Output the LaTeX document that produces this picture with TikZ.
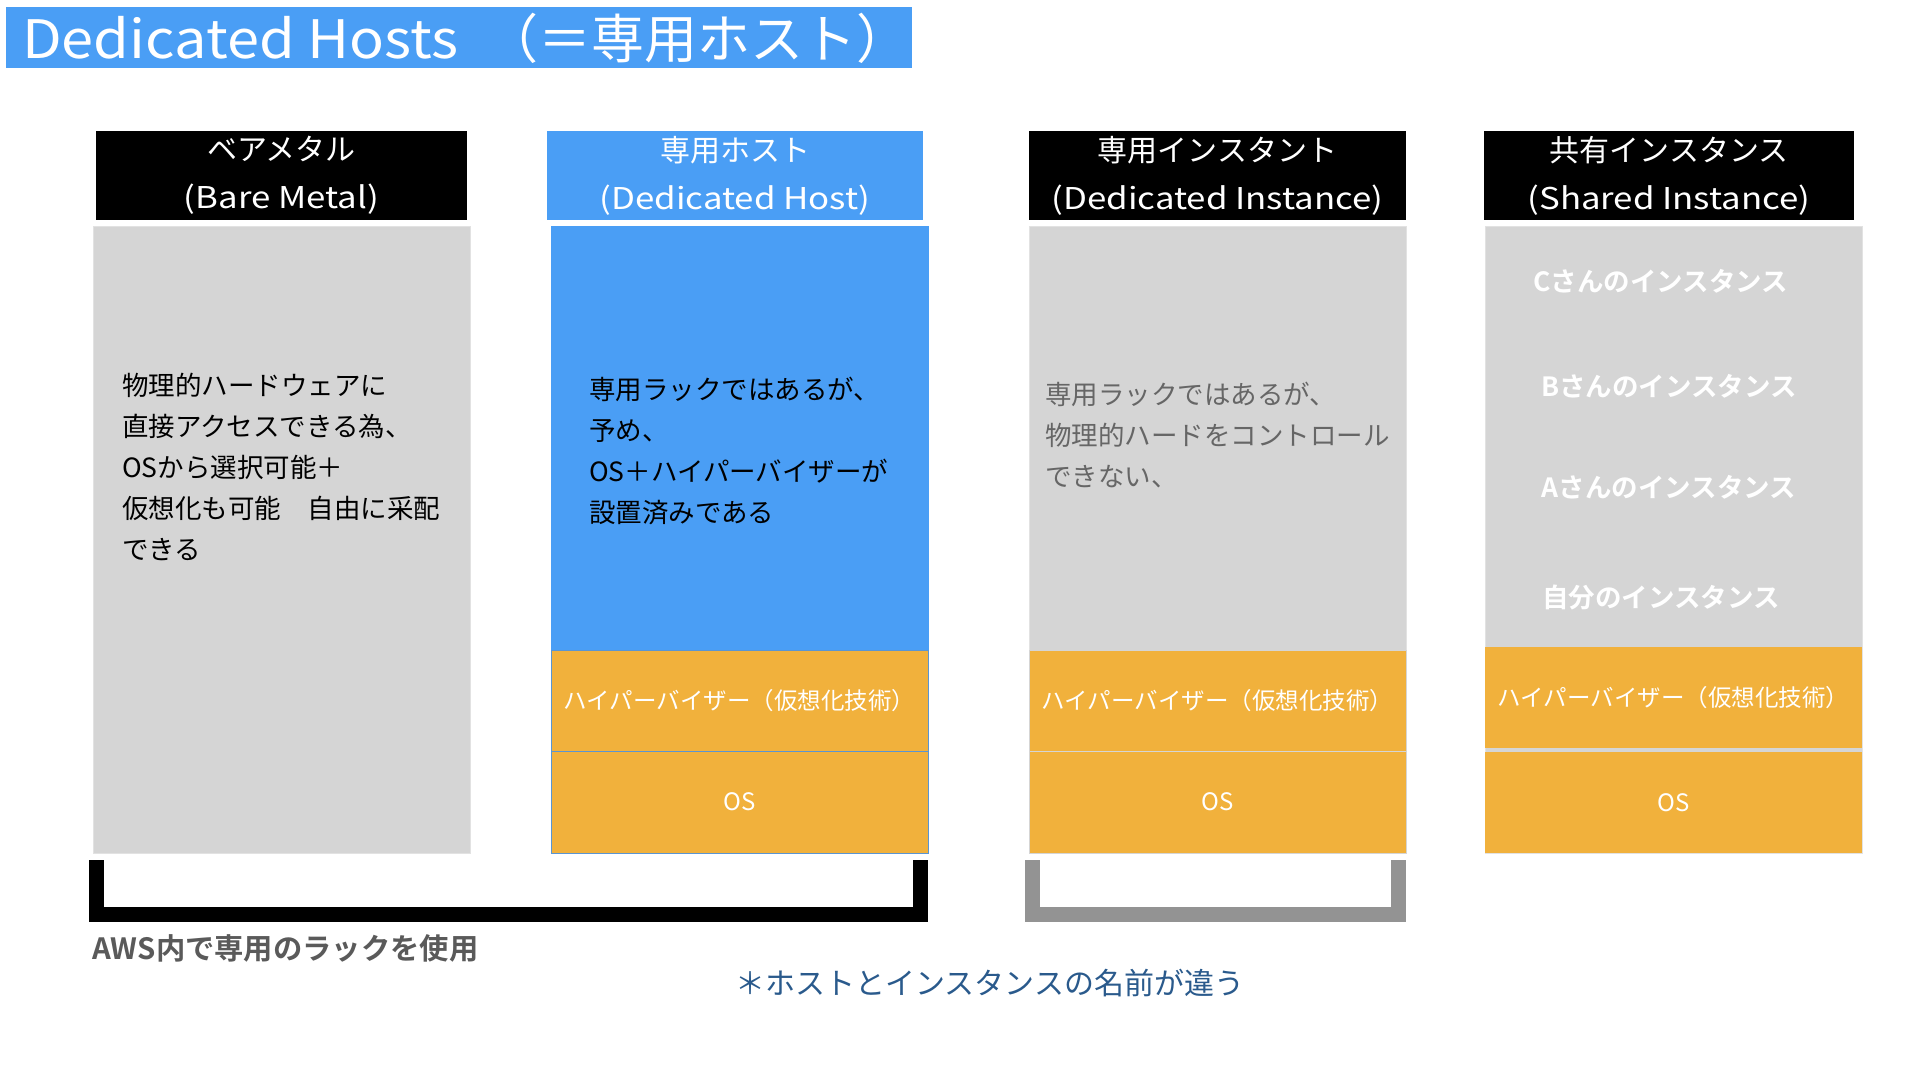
\documentclass[tikz,border=0pt]{standalone}
\usepackage{fontspec}
\setmainfont{Noto Sans CJK JP}[BoldFont={Noto Sans CJK JP Bold}]
\newfontfamily\latT{Noto Sans CJK JP}[FakeStretch=1.09]
\newfontfamily\latH{Noto Sans CJK JP}[FakeStretch=1.16]
\definecolor{tblue}{HTML}{4A9EF5}
\definecolor{torange}{HTML}{F1B13C}
\definecolor{tgray}{HTML}{D5D5D5}
\definecolor{tdgray}{HTML}{666666}
\definecolor{tnote}{HTML}{2A5A8C}
\definecolor{tlabel}{HTML}{5A5A5A}
\definecolor{tbrk}{HTML}{939393}
\newcommand\fs[2]{\fontsize{#1}{#2}\selectfont}
\tikzset{
  box/.style={inner sep=0pt, outer sep=0pt, minimum width=377pt},
  hdr/.style={box, fill=black, text=white, minimum height=89pt, align=center, font=\fs{30}{48}},
  body/.style={box, fill=tgray, draw=tgray!70!white, line width=0.8pt},
  hyp/.style={box, fill=torange, text=white, minimum height=101pt, font=\fs{23.5}{30}},
  ostxt/.style={box, fill=torange, text=white, minimum height=101pt, font=\fs{24}{30}},
  para/.style={inner sep=0pt, anchor=north west, align=left, font=\fs{26.5}{41}},
  inst/.style={inner sep=0pt, text=white, font=\bfseries\fs{26.5}{30}},
  brk/.style={line width=15pt, line join=miter},
}
\begin{document}
\begin{tikzpicture}[x=1pt, y=-1pt]
\useasboundingbox (0,0) rectangle (1920,1080);
% title
\node[inner sep=0pt, outer sep=0pt, fill=tblue, minimum width=906pt, minimum height=61pt, anchor=north west] (title) at (6,7) {};
\node[inner sep=0pt, anchor=west, text=white, font=\fs{53}{60}] (titletxt) at (22,38) {{\latT Dedicated Hosts}\hspace{0.5em}（＝専用ホスト）};
% headers
\node[hdr, minimum width=371pt] (h1) at (281.5,175.5) {ベアメタル\\{\latH (Bare Metal)}};
\node[hdr, fill=tblue, minimum width=376pt] (h2) at (735,175.5) {専用ホスト\\{\latH (Dedicated Host)}};
\node[hdr] (h3) at (1217.5,175.5) {専用インスタント\\{\latH (Dedicated Instance)}};
\node[hdr, minimum width=370pt] (h4) at (1669,175.5) {共有インスタンス\\{\latH (Shared Instance)}};
% column 1
\node[body, minimum height=627pt] (b1) at (281.5,539.5) {};
\node[para] (t1) at (122,373) {物理的ハードウェアに\\直接アクセスできる為、\\OSから選択可能＋\\仮想化も可能　自由に采配\\できる};
% column 2
\node[body, fill=tblue, draw=tblue, minimum height=424pt] (b2) at (739.5,438) {};
\node[hyp, draw=tblue!70!gray, line width=1pt] (hv2) at (739.5,700.5) {ハイパーバイザー（仮想化技術）};
\node[ostxt, draw=tblue!70!gray, line width=1pt, minimum height=102pt] (os2) at (739.5,802) {OS};
\node[para] (t2) at (589,377) {専用ラックではあるが、\\予め、\\OS＋ハイパーバイザーが\\設置済みである};
% column 3
\node[body, minimum height=424pt] (b3) at (1217.5,438) {};
\node[hyp, draw=tgray, line width=1pt] (hv3) at (1217.5,700.5) {ハイパーバイザー（仮想化技術）};
\node[ostxt, draw=tgray, line width=1pt, minimum height=102pt] (os3) at (1217.5,802) {OS};
\node[para, text=tdgray] (t3) at (1045,382) {専用ラックではあるが、\\物理的ハードをコントロール\\できない、};
% column 4
\node[body, minimum height=627pt] (b4) at (1673.5,539.5) {};
\node[hyp] (hv4) at (1673.5,697.5) {ハイパーバイザー（仮想化技術）};
\node[ostxt] (os4) at (1673.5,802.5) {OS};
\node[inst] (ic) at (1661,281) {Cさんのインスタンス};
\node[inst] (ib) at (1669,386) {Bさんのインスタンス};
\node[inst] (ia) at (1669,487) {Aさんのインスタンス};
\node[inst] (im) at (1661,597) {自分のインスタンス};
% brackets
\coordinate (k1a) at (96.5,860);
\coordinate (k1b) at (920.5,860);
\coordinate (k2a) at (1032,860);
\coordinate (k2b) at (1398,860);
\draw[brk, black] (k1a) -- (k1a |- 0,914.5) -- (k1b |- 0,914.5) -- (k1b);
\draw[brk, tbrk] (k2a) -- (k2a |- 0,914.5) -- (k2b |- 0,914.5) -- (k2b);
% labels
\node[inner sep=0pt, anchor=west, text=tlabel, font=\bfseries\fs{29.3}{32}] (aws) at (92,948) {AWS内で専用のラックを使用};
\node[inner sep=0pt, anchor=west, text=tnote, font=\fs{30}{32}] (note) at (735,983) {＊ホストとインスタンスの名前が違う};
\end{tikzpicture}
\end{document}
